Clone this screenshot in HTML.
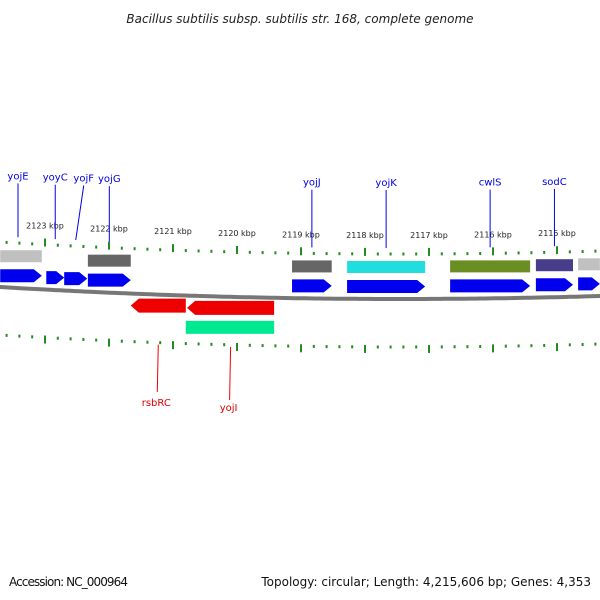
<!DOCTYPE html>
<html><head><meta charset="utf-8"><style>
body{margin:0;background:#fff}
svg{display:block;font-family:"DejaVu Sans","Liberation Sans",sans-serif}
</style></head><body>
<svg id="c" width="600" height="600" viewBox="0 0 600 600">
<text x="300" y="23" text-anchor="middle" font-size="12" font-style="italic" fill="#222">Bacillus subtilis subsp. subtilis str. 168, complete genome</text>
<text x="9" y="586" font-size="12" fill="#111" textLength="119">Accession: NC_000964</text>
<text x="591" y="586" font-size="12" fill="#111" text-anchor="end">Topology: circular; Length: 4,215,606 bp; Genes: 4,353</text>
<g id="g"></g>
</svg>
<script>
const tickKbp=[2123,2122,2121,2120,2119,2118,2117,2116,2115];
const fwdGenes=[[2123.70,2123.05],[2122.98,2122.70],[2122.70,2122.34],[2122.33,2121.66],[2119.14,2118.52],[2118.28,2117.06],[2116.67,2115.42],[2115.33,2114.75],[2114.67,2114.33]];
const cogColors=["#c0c0c0",null,null,"#666666","#666666","#22dddd","#6b8e23","#483d8b","#c0c0c0"];
const revGenes=[[2121.66,2120.80],[2120.78,2119.42]];
const revColors=["#ee0000","#ee0000"];
const greenBar=[2120.80,2119.42];
const topLabels=["yojE","yoyC","yojF","yojG","yojJ","yojK","cwlS","sodC"];
const topLabelGene=[0,1,2,3,4,5,6,7];
const botLabels=["rsbRC","yojI"];
const NS="http://www.w3.org/2000/svg";
const G=document.getElementById('g');
function X(k){return 45+(2123-k)*64;}
function C(x){return -((x-400)*(x-400))/13333;}
function el(t,a,txt){const e=document.createElementNS(NS,t);for(const k in a)e.setAttribute(k,a[k]);if(txt)e.textContent=txt;G.appendChild(e);return e;}
let d="";for(let x=-5;x<=605;x+=5)d+=(x==-5?"M":"L")+x+","+(299+C(x)).toFixed(1);
let bb=el('path',{d:d,stroke:'#777',"stroke-width":4,fill:'none'});


for(let k=2124;k>=2114;k-=0.2){const x=X(k);if(x<-2||x>602)continue;
 const major=Math.abs(k-Math.round(k))<0.01;
 const yt=254+C(x),yb=347+C(x);
 let t1=el('line',{x1:x,x2:x,y1:major?yt-6:yt-1.5,y2:major?yt+2:yt+1.5,stroke:'#228b22',"stroke-width":2});
 
 
 let t2=el('line',{x1:x,x2:x,y1:major?yb-2:yb-1.5,y2:major?yb+6:yb+1.5,stroke:'#228b22',"stroke-width":2});
 
 
}
tickKbp.forEach(k=>{const x=X(k);let t=el('text',{x:x,y:238+C(x),"font-size":8,"text-anchor":"middle",fill:'#222'},k+" kbp");
 
 });
fwdGenes.forEach((g,i)=>{const x0=X(g[0]),x1=X(g[1]);const y=280+C((x0+x1)/2);
 let p=el('path',{d:`M${x0},${y}L${x1-8},${y}L${x1},${y+6.5}L${x1-8},${y+13}L${x0},${y+13}Z`,fill:'#0000ee'});
 
 
 if(cogColors[i]){let r=el('rect',{x:x0,y:262+C((x0+x1)/2)-1,width:x1-x0,height:12,fill:cogColors[i]});
  
  }
});
revGenes.forEach((g,i)=>{const x0=X(g[0]),x1=X(g[1]);const y=303+C((x0+x1)/2);
 let p=el('path',{d:`M${x1},${y}L${x0+8},${y}L${x0},${y+7}L${x0+8},${y+14}L${x1},${y+14}Z`,fill:revColors[i]});
 
 
});
{const x0=X(greenBar[0]),x1=X(greenBar[1]);let r=el('rect',{x:x0,y:323+C((x0+x1)/2),width:x1-x0,height:13,fill:'#00e890'});
 
 }
topLabels.forEach((n,i)=>{const g=fwdGenes[topLabelGene[i]];const gx=(X(g[0])+X(g[1]))/2;const lx=gx+(i==2?8:i==0?-3:0);
 const ty=186+C(lx)*0.6;
 let t=el('text',{x:lx,y:ty,"font-size":10,"text-anchor":"middle",fill:'#0000dd'},n);
 
 
 let l=el('line',{x1:lx,y1:ty+4,x2:gx-(i==0?3:0),y2:248+C(gx),stroke:'#0000ee'});
 
 
});
botLabels.forEach((n,i)=>{const g=revGenes[i];const gx=(X(g[0])+X(g[1]))/2;
 let l=el('line',{x1:gx,y1:349+C(gx),x2:gx-1,y2:392+i*8,stroke:'#ee0000'});
 
 
 let t=el('text',{x:gx-2,y:406+i*5,"font-size":10,"text-anchor":"middle",fill:'#dd0000'},n);
 
 
});
</script>
</body></html>
